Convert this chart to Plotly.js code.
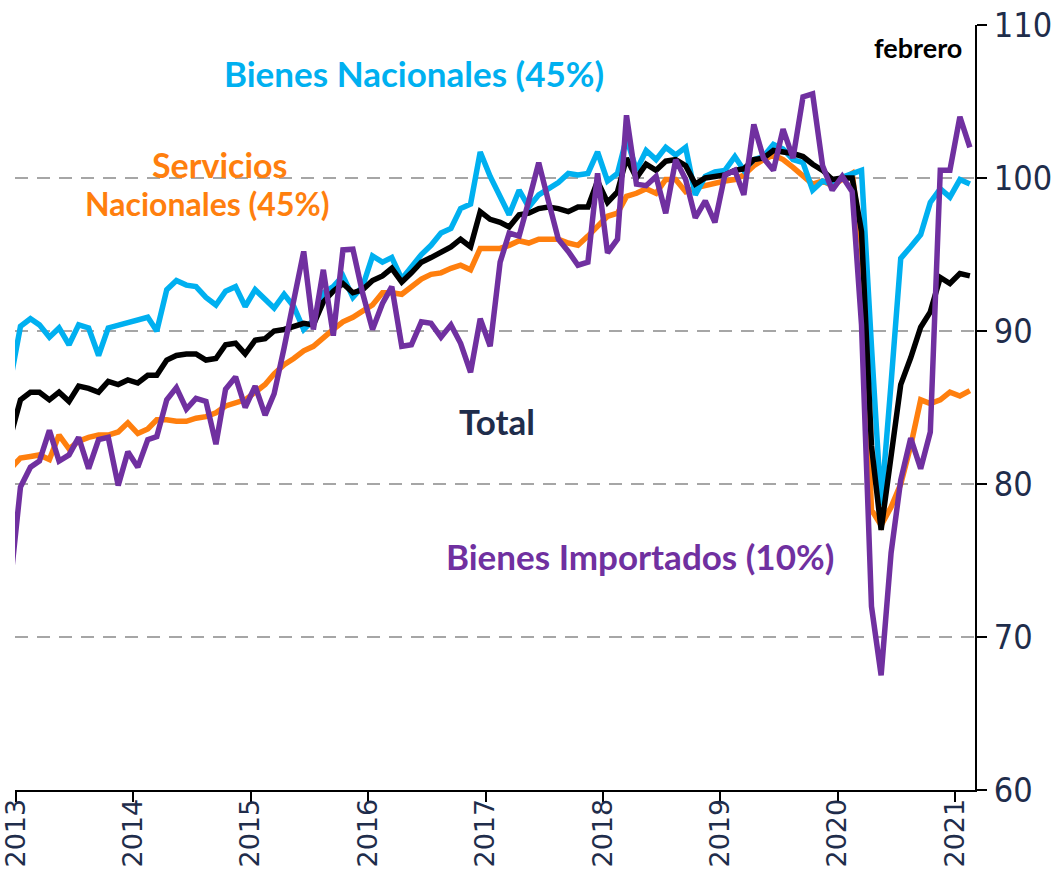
<!DOCTYPE html>
<html>
<head>
<meta charset="utf-8">
<script src="https://cdn.plot.ly/plotly-3.0.1.min.js"></script>
<style>html,body{margin:0;padding:0;background:#fff;}#chart{width:1058px;height:877px;}</style>
</head>
<body>
<div id="chart"></div>
<script>
// Monthly observations, Dec 2012 (clipped at the left edge) to Feb 2021
const startYear = 2012, startMonth = 12, nPoints = 99;
const yearTicks = ['2013','2014','2015','2016','2017','2018','2019','2020','2021'];

const bienesNacionales = [86.8,
  90.3, 90.8, 90.4, 89.6, 90.2, 89.1, 90.4, 90.2, 88.4, 90.2, 90.4, 90.5,
  90.7, 90.9, 90.0, 92.7, 93.3, 93.0, 92.9, 92.2, 91.7, 92.6, 92.9, 91.6,
  92.7, 92.1, 91.5, 92.4, 91.6, 90.1, 90.7, 92.5, 92.9, 93.6, 92.2, 92.9,
  94.9, 94.5, 94.8, 93.4, 94.2, 95.0, 95.6, 96.4, 96.7, 98.0, 98.3, 101.7,
  100.1, 98.8, 97.6, 99.2, 98.1, 98.9, 99.3, 99.7, 100.3, 100.2, 100.3, 101.7,
  99.8, 100.3, 102.6, 100.5, 101.8, 101.2, 102.0, 101.5, 102.0, 98.9, 100.1, 100.4,
  100.5, 101.4, 100.5, 101.2, 101.4, 102.2, 101.9, 101.2, 101.0, 99.2, 99.8, 99.6,
  100.05, 100.3, 100.5, 89.0, 78.6, 86.6, 94.75, 95.5, 96.3, 98.4, 99.3, 98.75,
  99.9, 99.6];

const serviciosNacionales = [81.0,
  81.7, 81.8, 81.9, 81.6, 83.2, 82.3, 82.8, 83.05, 83.2, 83.2, 83.4, 84.0,
  83.3, 83.6, 84.2, 84.2, 84.1, 84.1, 84.3, 84.4, 84.65, 85.1, 85.3, 85.5,
  86.0, 86.5, 87.2, 87.8, 88.2, 88.7, 89.0, 89.5, 90.1, 90.6, 90.9, 91.3,
  91.7, 92.5, 92.5, 92.4, 92.9, 93.4, 93.7, 93.8, 94.1, 94.3, 94.0, 95.4,
  95.4, 95.4, 95.6, 95.9, 95.75, 96.0, 96.0, 96.0, 95.75, 95.6, 96.2, 96.8,
  97.5, 97.7, 98.8, 99.0, 99.3, 99.0, 99.9, 99.9, 99.1, 99.35, 99.5, 99.7,
  99.8, 99.9, 100.2, 100.8, 101.2, 101.5, 101.2, 100.7, 100.1, 99.6, 99.8, 99.5,
  99.9, 100.3, 95.5, 78.3, 77.3, 78.5, 80.0, 82.5, 85.5, 85.25, 85.5, 86.0,
  85.75, 86.1];

const total = [83.1,
  85.5, 86.0, 86.0, 85.5, 86.0, 85.4, 86.4, 86.25, 86.0, 86.7, 86.5, 86.8,
  86.6, 87.1, 87.1, 88.1, 88.4, 88.5, 88.5, 88.1, 88.2, 89.1, 89.2, 88.5,
  89.4, 89.5, 90.0, 90.1, 90.3, 90.5, 90.4, 91.9, 92.6, 93.1, 92.5, 92.7,
  93.3, 93.6, 94.1, 93.2, 93.8, 94.5, 94.8, 95.2, 95.5, 96.0, 95.5, 97.8,
  97.3, 97.1, 96.8, 97.6, 97.7, 98.0, 98.1, 98.0, 97.8, 98.1, 98.1, 99.8,
  98.4, 99.1, 101.3, 100.0, 100.9, 100.5, 101.1, 101.2, 100.8, 99.6, 100.0, 100.1,
  100.2, 100.5, 100.6, 101.2, 101.3, 101.8, 101.7, 101.6, 101.4, 100.9, 100.5, 99.9,
  100.0, 100.0, 96.5, 82.5, 77.0, 81.8, 86.5, 88.25, 90.25, 91.25, 93.5, 93.1,
  93.75, 93.6];

const bienesImportados = [73.6,
  79.8, 81.1, 81.5, 83.5, 81.5, 81.9, 83.05, 81.0, 82.9, 83.05, 79.9, 82.1,
  81.1, 82.9, 83.1, 85.5, 86.3, 84.9, 85.6, 85.4, 82.6, 86.2, 87.0, 85.0,
  86.4, 84.5, 85.9, 88.9, 92.0, 95.2, 90.1, 94.0, 89.7, 95.3, 95.35, 92.5,
  90.1, 91.8, 92.9, 89.0, 89.1, 90.6, 90.5, 89.6, 90.4, 89.2, 87.3, 90.8,
  89.0, 94.5, 96.4, 96.2, 98.5, 101.0, 98.5, 96.0, 95.2, 94.3, 94.5, 100.3,
  95.1, 96.0, 104.1, 99.6, 99.5, 100.1, 97.7, 101.2, 99.9, 97.4, 98.5, 97.1,
  100.2, 100.5, 98.9, 103.5, 101.3, 100.5, 103.2, 101.3, 105.3, 105.5, 100.8, 99.2,
  100.1, 99.1, 90.4, 72.0, 67.5, 75.5, 80.25, 83.0, 81.0, 83.4, 100.5, 100.5,
  104.0, 102.0];

// mid-month dates for each observation
const months = [];
for (let i = 0; i < nPoints; i++) {
  const m0 = (startMonth - 1) + i;
  const y = startYear + Math.floor(m0 / 12);
  const m = (m0 % 12) + 1;
  months.push(y + '-' + String(m).padStart(2, '0') + '-15');
}
const tickDates = yearTicks.map(y => y + '-01-01');

const COL_BLUE = '#00b0f0', COL_ORANGE = '#ff7f0e', COL_BLACK = '#000000', COL_PURPLE = '#7030a0';
const NAVY = '#1f2d4b';
const LW = 5.5;

const traces = [
  {x: months, y: serviciosNacionales, name: 'Servicios Nacionales (45%)', mode: 'lines', line: {color: COL_ORANGE, width: LW}},
  {x: months, y: bienesNacionales, name: 'Bienes Nacionales (45%)', mode: 'lines', line: {color: COL_BLUE, width: LW}},
  {x: months, y: total, name: 'Total', mode: 'lines', line: {color: COL_BLACK, width: LW}},
  {x: months, y: bienesImportados, name: 'Bienes Importados (10%)', mode: 'lines', line: {color: COL_PURPLE, width: LW}}
];

const labelFont = (c, s) => ({family: 'Lato, "Open Sans", sans-serif', size: s, color: c, weight: 'bold'});
const note = (text, x, y, color, size) => ({xref: 'paper', yref: 'paper', x: x, y: y, xanchor: 'center', yanchor: 'middle',
  showarrow: false, text: text, font: labelFont(color, size)});

const layout = {
  width: 1058, height: 877,
  margin: {l: 15, r: 83, t: 25, b: 87, pad: 0},
  paper_bgcolor: '#ffffff', plot_bgcolor: '#ffffff',
  showlegend: false,
  xaxis: {
    type: 'date',
    range: ['2012-12-29', '2021-03-03'],
    tickmode: 'array', tickvals: tickDates, ticktext: yearTicks,
    tickangle: -90,
    ticks: 'outside', ticklen: 10, tickwidth: 2, tickcolor: '#000',
    showline: true, linecolor: '#000', linewidth: 2,
    showgrid: false, zeroline: false,
    tickfont: {family: '"DejaVu Sans", Verdana, sans-serif', size: 27, color: NAVY},
    ticklabelstandoff: -14,
    ticklabeloverflow: 'allow',
    automargin: false
  },
  yaxis: {
    side: 'right',
    range: [60, 110], tickmode: 'linear', tick0: 60, dtick: 10,
    ticks: 'outside', ticklen: 10, tickwidth: 2, tickcolor: '#000',
    showline: true, linecolor: '#000', linewidth: 2,
    showgrid: true, gridcolor: '#a6a6a6', gridwidth: 2, griddash: '13px,9px',
    zeroline: false,
    tickfont: {family: '"Liberation Sans Narrow", "DejaVu Sans Condensed", sans-serif', size: 34, color: NAVY},
    automargin: false
  },
  annotations: [
    note('Bienes Nacionales (45%)', 0.4156, 0.937, COL_BLUE, 35),
    note('Servicios', 0.2135, 0.817, COL_ORANGE, 34),
    note('Nacionales (45%)', 0.2010, 0.767, COL_ORANGE, 32),
    note('Total', 0.502, 0.482, NAVY, 35),
    note('Bienes Importados (10%)', 0.651, 0.306, COL_PURPLE, 35),
    note('febrero', 0.9406, 0.9712, '#000000', 27)
  ]
};

Plotly.newPlot('chart', traces, layout, {displayModeBar: false, staticPlot: true});
</script>
</body>
</html>
